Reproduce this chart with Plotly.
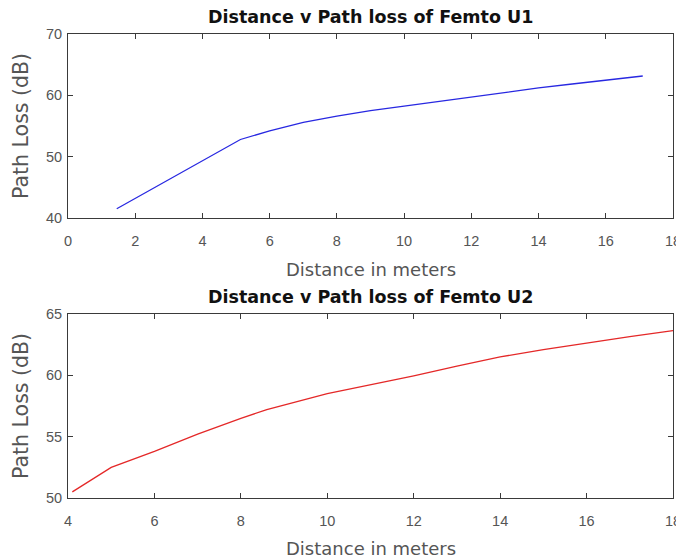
import plotly.graph_objects as go

# ---- data ----
u1_distance = [1.45, 5.13, 6, 7, 8, 9, 10, 11, 12, 13, 14, 15, 16, 17.1]
u1_pathloss = [41.5, 52.8, 54.2, 55.6, 56.6, 57.5, 58.25, 59.0, 59.75, 60.5, 61.2, 61.85, 62.5, 63.15]

u2_distance = [4.1, 5, 6, 7, 8, 8.6, 10, 11, 12, 13, 14, 15, 16, 17, 18]
u2_pathloss = [50.5, 52.5, 53.8, 55.2, 56.5, 57.2, 58.5, 59.2, 59.95, 60.75, 61.5, 62.1, 62.65, 63.15, 63.65]

titles = ["Distance v Path loss of Femto U1", "Distance v Path loss of Femto U2"]
x_label = "Distance in meters"
y_label = "Path Loss (dB)"

# the page body has an 8px margin; size the figure so it fills the 684x560 window
OFF = 8
W, H = 684 - OFF, 560 - OFF

def px(x):
    return (x - OFF) / W

def py(y):
    return 1 - (y - OFF) / H

fig = go.Figure()
fig.add_trace(go.Scatter(x=u1_distance, y=u1_pathloss, mode="lines",
                         line=dict(color="rgb(40,40,225)", width=1.3),
                         xaxis="x", yaxis="y", showlegend=False))
fig.add_trace(go.Scatter(x=u2_distance, y=u2_pathloss, mode="lines",
                         line=dict(color="rgb(228,40,40)", width=1.3),
                         xaxis="x2", yaxis="y2", showlegend=False))

xdom = [px(68), px(673)]
top_dom = [py(218), py(34)]
bot_dom = [py(498), py(314)]

tickfont = dict(family="Liberation Sans, Arial, sans-serif", size=14.5, color="#555555")
axis_common = dict(showgrid=False, zeroline=False, showline=True, linecolor="#3a3a3a",
                   linewidth=1, mirror="ticks", ticks="inside", ticklen=5,
                   tickcolor="#3a3a3a", tickwidth=1, tickfont=tickfont, automargin=False,
                   ticklabeloverflow="allow")

fig.update_layout(
    width=W, height=H,
    margin=dict(l=0, r=0, t=0, b=0),
    paper_bgcolor="white", plot_bgcolor="white",
    xaxis=dict(domain=xdom, range=[0, 18], tick0=0, dtick=2, anchor="y",
               ticklabelstandoff=10, **axis_common),
    yaxis=dict(domain=top_dom, range=[40, 70], tick0=40, dtick=10, anchor="x",
               ticklabelstandoff=2, **axis_common),
    xaxis2=dict(domain=xdom, range=[4, 18], tick0=4, dtick=2, anchor="y2",
                ticklabelstandoff=10, **axis_common),
    yaxis2=dict(domain=bot_dom, range=[50, 65], tick0=50, dtick=5, anchor="x2",
                ticklabelstandoff=2, **axis_common),
)

title_font = dict(family="DejaVu Sans, sans-serif", size=17.5, color="#111111", weight="bold")
xlabel_font = dict(family="DejaVu Sans, sans-serif", size=18, color="#555555")
ylabel_font = dict(family="DejaVu Sans, sans-serif", size=20.5, color="#555555")
xc = px((68 + 673) / 2)

def ann(text, x, y, font, angle=0):
    fig.add_annotation(text=text, x=x, y=y, xref="paper", yref="paper",
                       xanchor="center", yanchor="middle", showarrow=False,
                       font=font, textangle=angle)

ann(titles[0], xc, py(17), title_font)
ann(titles[1], xc, py(297), title_font)
ann(x_label, xc, py(269), xlabel_font)
ann(x_label, xc, py(548), xlabel_font)
ann(y_label, px(21), py(126), ylabel_font, -90)
ann(y_label, px(21), py(406), ylabel_font, -90)

fig.write_html("out.html")
